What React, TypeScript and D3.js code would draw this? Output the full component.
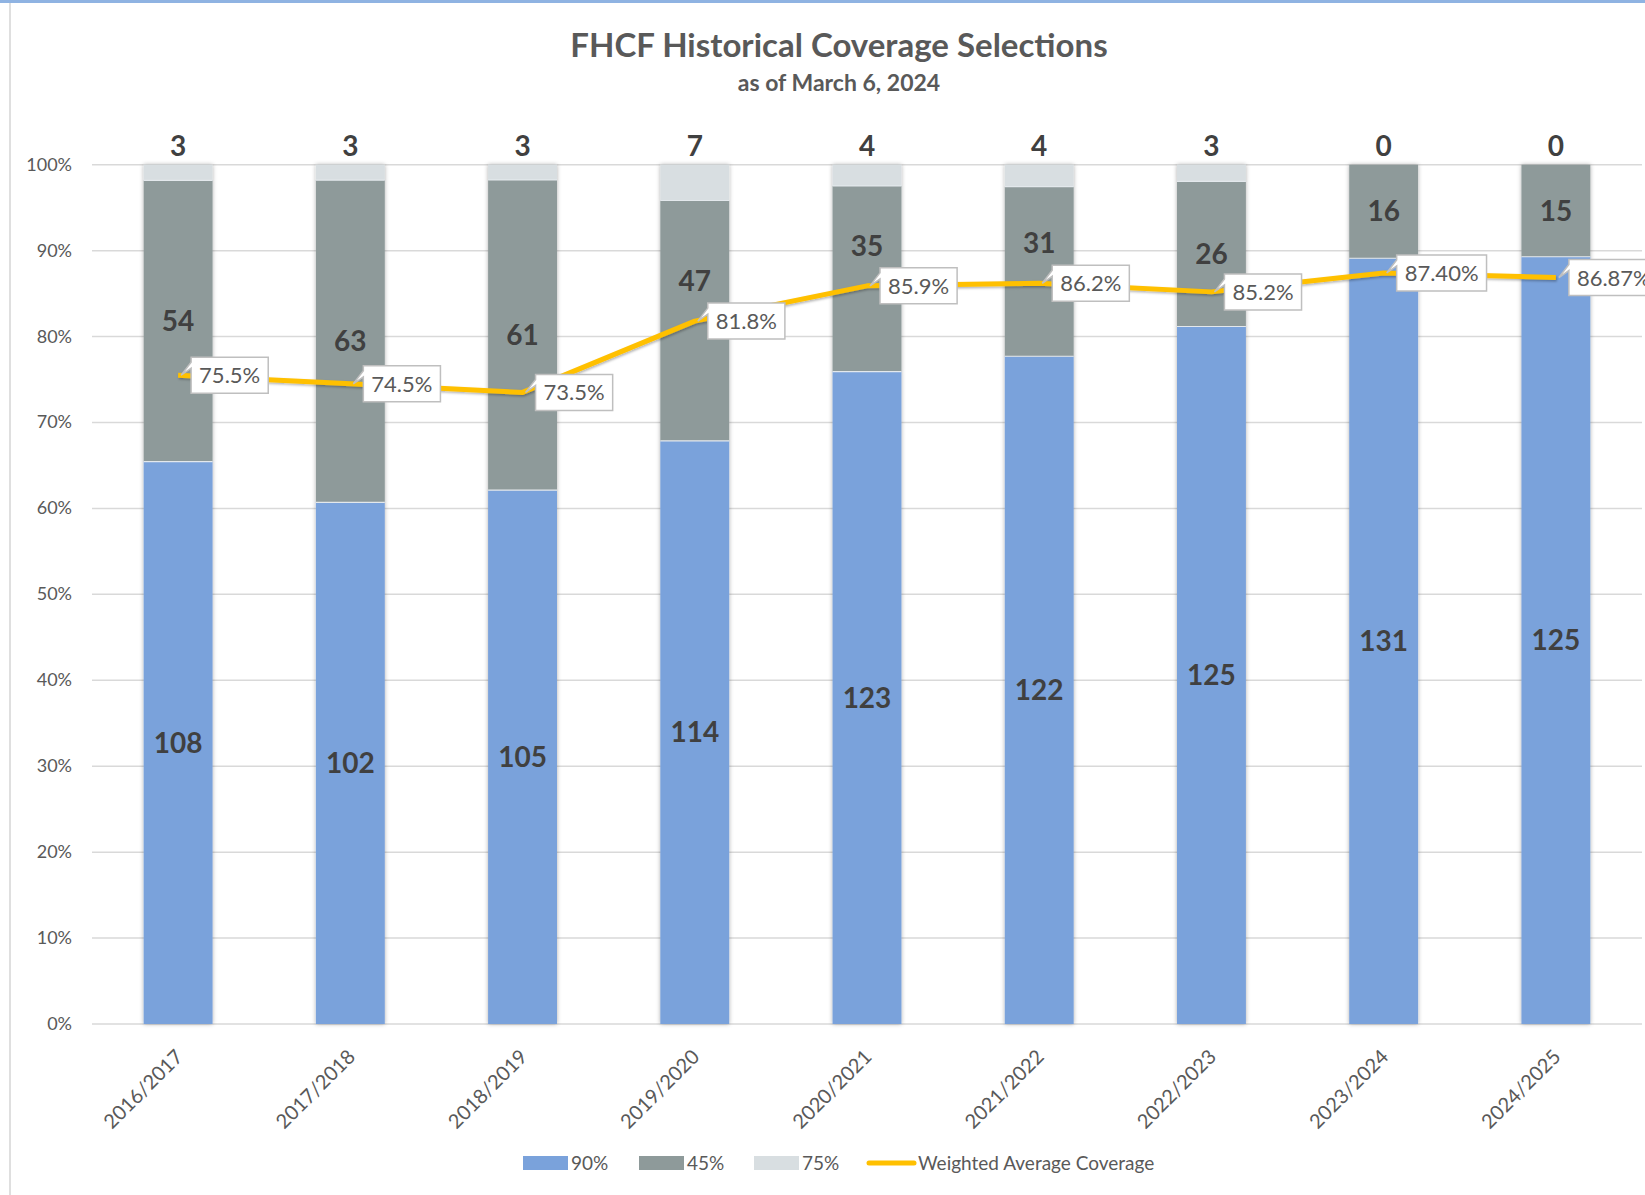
import { useRef, useEffect } from 'react';
import * as d3 from 'd3';

const categories = ['2016/2017', '2017/2018', '2018/2019', '2019/2020', '2020/2021', '2021/2022', '2022/2023', '2023/2024', '2024/2025'];
const count90 = [108, 102, 105, 114, 123, 122, 125, 131, 125];
const count45 = [54, 63, 61, 47, 35, 31, 26, 16, 15];
const count75 = [3, 3, 3, 7, 4, 4, 3, 0, 0];
const weightedAvg = [75.5, 74.5, 73.5, 81.8, 85.9, 86.2, 85.2, 87.4, 86.87];
const weightedLabels = ['75.5%', '74.5%', '73.5%', '81.8%', '85.9%', '86.2%', '85.2%', '87.40%', '86.87%'];
const yTicks = [0, 10, 20, 30, 40, 50, 60, 70, 80, 90, 100];
const legendItems = ['90%', '45%', '75%', 'Weighted Average Coverage'];

const colors = { p90: '#7aa2db', p45: '#8e9a9a', p75: '#d8dee1' };
const FONT = 'Lato, "Open Sans", sans-serif';

const App = () => {
  const svgRef = useRef<SVGSVGElement>(null);

  useEffect(() => {
    const svg = d3.select(svgRef.current);
    svg.selectAll('*').remove();

    const left = 92;
    const right = 1642;
    const top = 164.7;
    const bottom = 1024;

    const rows = categories.map((c, i) => {
      const total = count90[i] + count45[i] + count75[i];
      return { cat: c, p90: count90[i] / total, p45: count45[i] / total, p75: count75[i] / total, i };
    });

    const x = d3.scaleBand().domain(categories).range([left, right]).paddingInner(0.6).paddingOuter(0.3);
    const y = d3.scaleLinear().domain([0, 1]).range([bottom, top]);
    const cx = (c: string) => (x(c) as number) + x.bandwidth() / 2;

    const defs = svg.append('defs');
    const f = defs.append('filter').attr('id', 'shadow').attr('x', '-20%').attr('y', '-5%').attr('width', '140%').attr('height', '110%');
    f.append('feDropShadow').attr('dx', 0).attr('dy', 0).attr('stdDeviation', 2.2).attr('flood-color', '#000').attr('flood-opacity', 0.32);
    const f2 = defs.append('filter').attr('id', 'lshadow').attr('x', '-5%').attr('y', '-50%').attr('width', '110%').attr('height', '200%');
    f2.append('feDropShadow').attr('dx', 1).attr('dy', 1.5).attr('stdDeviation', 1.2).attr('flood-color', '#000').attr('flood-opacity', 0.3);

    svg.append('rect').attr('width', 1645).attr('height', 1195).attr('fill', '#fff');
    // frame
    svg.append('line').attr('x1', 10).attr('x2', 10).attr('y1', 0).attr('y2', 1195).attr('stroke', '#d4d4d4').attr('stroke-width', 1.5);
    svg.append('rect').attr('x', 0).attr('y', 0).attr('width', 1645).attr('height', 3).attr('fill', '#8fb3e2');

    // title
    svg.append('text').attr('x', 839).attr('y', 57).attr('text-anchor', 'middle')
      .style('font-family', FONT).style('font-size', '33px').style('font-weight', 'bold').attr('fill', '#595959')
      .text('FHCF Historical Coverage Selections');
    svg.append('text').attr('x', 839).attr('y', 91).attr('text-anchor', 'middle')
      .style('font-family', FONT).style('font-size', '23px').style('font-weight', 'bold').attr('fill', '#595959')
      .text('as of March 6, 2024');

    // grid + y labels
    const g = svg.append('g');
    g.selectAll('.grid').data(yTicks).enter().append('line')
      .attr('x1', left).attr('x2', right)
      .attr('y1', d => y(d / 100)).attr('y2', d => y(d / 100))
      .attr('stroke', '#d9d9d9').attr('stroke-width', 1.5);
    g.selectAll('.ylab').data(yTicks).enter().append('text')
      .attr('x', 72).attr('y', d => y(d / 100) + 6).attr('text-anchor', 'end')
      .style('font-family', FONT).style('font-size', '18px').attr('fill', '#595959')
      .text(d => `${d}%`);

    // stacked bars
    const stack = d3.stack<any>().keys(['p90', 'p45', 'p75']);
    const series = stack(rows);
    const barG = svg.append('g').attr('filter', 'url(#shadow)');
    series.forEach(s => {
      barG.selectAll(`.bar-${s.key}`).data(s).enter().append('rect')
        .attr('x', d => x(d.data.cat) as number)
        .attr('width', x.bandwidth())
        .attr('y', d => y(d[1]))
        .attr('height', d => y(d[0]) - y(d[1]))
        .attr('fill', (colors as any)[s.key]);
    });
    // thin separators between segments
    series.slice(0, 2).forEach(s => {
      svg.selectAll(`.sep-${s.key}`).data(s.filter(d => d[1] < 0.999)).enter().append('line')
        .attr('x1', d => x(d.data.cat) as number).attr('x2', d => (x(d.data.cat) as number) + x.bandwidth())
        .attr('y1', d => y(d[1])).attr('y2', d => y(d[1]))
        .attr('stroke', '#e3e8ec').attr('stroke-width', 1.2);
    });

    // segment labels
    const lab = (sel: any) => sel.style('font-family', FONT).style('font-size', '28px').style('font-weight', 'bold')
      .attr('fill', '#404040').attr('text-anchor', 'middle');
    lab(svg.selectAll('.l90').data(series[0]).enter().append('text')
      .attr('x', (d: any) => cx(d.data.cat)).attr('y', (d: any) => y((d[0] + d[1]) / 2) + 10)
      .text((d: any) => count90[d.data.i]));
    // 45% labels: nudge up when they would sit on the average line callout
    lab(svg.selectAll('.l45').data(series[1]).enter().append('text')
      .attr('x', (d: any) => cx(d.data.cat))
      .attr('y', (d: any) => {
        const c = y((d[0] + d[1]) / 2);
        const py = y(weightedAvg[d.data.i] / 100);
        return (Math.abs(c - py) < 30 ? py - 40 : c) + 10;
      })
      .text((d: any) => count45[d.data.i]));
    lab(svg.selectAll('.l75').data(series[2]).enter().append('text')
      .attr('x', (d: any) => cx(d.data.cat)).attr('y', y(1) - 9)
      .text((d: any) => count75[d.data.i]));

    // weighted average line
    const line = d3.line<number>().x((d, i) => cx(categories[i])).y(d => y(d / 100));
    svg.append('path').datum(weightedAvg).attr('d', line as any)
      .attr('fill', 'none').attr('stroke', '#ffc000').attr('stroke-width', 5).attr('stroke-linejoin', 'round')
      .attr('filter', 'url(#lshadow)');

    // callout labels
    weightedAvg.forEach((v, i) => {
      const px = cx(categories[i]);
      const py = y(v / 100);
      const bx = px + 13;
      const by = py - 18;
      const lg = svg.append('g');
      const t = lg.append('text').attr('x', bx + 8).attr('y', by + 26)
        .style('font-family', FONT).style('font-size', '22px').attr('fill', '#595959')
        .text(weightedLabels[i]);
      const w = (t.node() as SVGTextElement).getComputedTextLength() + 16;
      const h = 36;
      lg.insert('path', 'text')
        .attr('d', `M${bx},${by} H${bx + w} V${by + h} H${bx} V${by + 11} L${px + 3},${py} L${bx},${by + 5} Z`)
        .attr('fill', '#fff').attr('stroke', '#bfbfbf').attr('stroke-width', 1.5);
    });

    // x labels
    svg.selectAll('.xlab').data(categories).enter().append('text')
      .attr('transform', d => `translate(${cx(d) + 6},${1058}) rotate(-45)`)
      .attr('text-anchor', 'end')
      .style('font-family', FONT).style('font-size', '20px').attr('fill', '#595959')
      .text(d => d);

    // legend
    const ly = 1163;
    const legX = [523, 639, 754, 866];
    const legFill = [colors.p90, colors.p45, colors.p75];
    legendItems.forEach((name, i) => {
      if (i < 3) {
        svg.append('rect').attr('x', legX[i]).attr('y', ly - 7).attr('width', 45).attr('height', 14)
          .attr('fill', legFill[i]);
        svg.append('text').attr('x', legX[i] + 48).attr('y', ly + 6.5)
          .style('font-family', FONT).style('font-size', '19px').attr('fill', '#595959').text(name);
      } else {
        svg.append('line').attr('x1', legX[i] + 3).attr('x2', legX[i] + 48).attr('y1', ly).attr('y2', ly)
          .attr('stroke', '#ffc000').attr('stroke-width', 5).attr('stroke-linecap', 'round');
        svg.append('text').attr('x', legX[i] + 52).attr('y', ly + 6.5)
          .style('font-family', FONT).style('font-size', '19px').attr('fill', '#595959').text(name);
      }
    });
  }, []);

  return (
    <div style={{ position: 'absolute', left: 0, top: 0 }}>
      <svg ref={svgRef} width="1645" height="1195" style={{ display: 'block' }}></svg>
    </div>
  );
};

export default App;
